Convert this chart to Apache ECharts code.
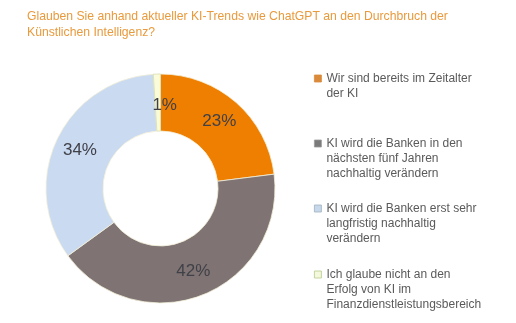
<!DOCTYPE html>
<html>
<head>
<meta charset="utf-8">
<script src="https://cdn.jsdelivr.net/npm/echarts@6/dist/echarts.min.js"></script>
<style>
  html, body { margin: 0; padding: 0; background: #fff; }
  #chart { width: 516px; height: 323px; }
</style>
</head>
<body>
<div id="chart"></div>
<script>
// Survey answers and their shares (percent)
const answers = [
  'Wir sind bereits im Zeitalter der KI',
  'KI wird die Banken in den nächsten fünf Jahren nachhaltig verändern',
  'KI wird die Banken erst sehr langfristig nachhaltig verändern',
  'Ich glaube nicht an den Erfolg von KI im Finanzdienstleistungsbereich'
];
const shares = [23, 42, 34, 1];
// Wrapped legend text for each answer
const legendLines = [
  ['Wir sind bereits im Zeitalter', 'der KI'],
  ['KI wird die Banken in den', 'nächsten fünf Jahren', 'nachhaltig verändern'],
  ['KI wird die Banken erst sehr', 'langfristig nachhaltig', 'verändern'],
  ['Ich glaube nicht an den', 'Erfolg von KI im', 'Finanzdienstleistungsbereich']
];
const sliceColors = ['#EF7F00', '#7F7473', '#C9DAF1', '#FAFBD8'];
const iconColors = ['#D98A3A', '#7A7A7A', '#C6D8EA', '#F4F8DC'];
const iconBorders = ['#D98A3A', '#9A9A9A', '#9FB0BF', '#B5C98A'];
const legendTops = [66, 131, 196, 262];

const LINE_H = 15;
const SQ = 7;
const chart = echarts.init(document.getElementById('chart'));

// Square marker that sits beside the first line of a wrapped legend label:
// an invisible anchor point below the square stretches the symbol box so the
// square ends up at the top of it.
function topSquareIcon(lines) {
  const h = SQ + (lines - 1) * LINE_H;
  return { path: 'path://M0,0h7v7h-7zM0,' + h + 'h0', height: h };
}

const legends = answers.map((name, i) => {
  const n = legendLines[i].length;
  const icon = topSquareIcon(n);
  return {
    orient: 'vertical',
    left: 309,
    top: legendTops[i],
    data: [name],
    icon: icon.path,
    itemWidth: SQ,
    itemHeight: icon.height,
    itemGap: 0,
    selectedMode: false,
    itemStyle: {
      color: iconColors[i],
      borderColor: iconBorders[i],
      borderWidth: 0.8
    },
    formatter: () => legendLines[i].join('\n'),
    textStyle: {
      fontFamily: 'Liberation Sans, Arial, sans-serif',
      fontSize: 12,
      color: '#5A5A5A',
      lineHeight: LINE_H
    }
  };
});

chart.setOption({
  animation: false,
  title: {
    text: 'Glauben Sie anhand aktueller KI-Trends wie ChatGPT an den Durchbruch der\nKünstlichen Intelligenz?',
    left: 22,
    top: 4,
    textStyle: {
      fontFamily: 'Liberation Sans, Arial, sans-serif',
      fontSize: 12.2,
      fontWeight: 'normal',
      color: '#E99A3C',
      lineHeight: 16
    }
  },
  legend: legends,
  series: [{
    type: 'pie',
    center: [160.5, 188.5],
    radius: [57.5, 114.5],
    startAngle: 90,
    clockwise: true,
    avoidLabelOverlap: false,
    itemStyle: {
      borderColor: '#F3EFD8',
      borderWidth: 0.8
    },
    label: {
      show: true,
      position: 'inside',
      formatter: '{c}%',
      fontFamily: 'Liberation Sans, Arial, sans-serif',
      fontSize: 17,
      color: '#404048'
    },
    labelLine: { show: false },
    data: answers.map((name, i) => ({
      name,
      value: shares[i],
      itemStyle: i === 3
        ? { color: sliceColors[i], borderColor: '#D8DDB0', borderWidth: 0.8 }
        : { color: sliceColors[i] },
      label: i === 3 ? { offset: [7, 6] } : undefined
    }))
  }]
});
</script>
</body>
</html>
